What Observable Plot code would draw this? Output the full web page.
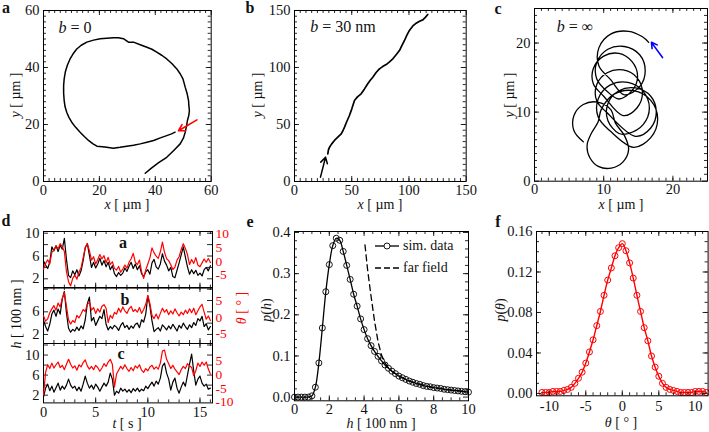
<!DOCTYPE html>
<html><head><meta charset="utf-8">
<script src="https://cdn.jsdelivr.net/npm/d3@7"></script>
<script src="https://cdn.jsdelivr.net/npm/@observablehq/plot@0.6"></script>
<style>
body{margin:0;background:#fff}
#root{position:relative;width:709px;height:432px;overflow:hidden;font-family:"Liberation Serif",serif;color:#111;background:#fff}
.abs{position:absolute;white-space:nowrap;line-height:1;transform:translate(-50%,-50%)}
.rot{transform:translate(-50%,-50%) rotate(-90deg)}
.lbl{font-weight:bold;font-size:16px}
.t{font-size:14px}
.leg{position:absolute;white-space:nowrap;line-height:1;font-size:14px;transform:translate(0,-50%)}
</style></head><body><div id="root"></div>
<script>
// ---------- data ----------
// panel a: trajectory, b = 0  (x, y in µm)
const trajA = [[36.4,2.9],[38.5,4.6],[41.2,6.6],[44.1,8.5],[46.6,10.9],[48.9,13.2],[50.1,15.3],[50.7,17.3],[51.2,19.5],[51.5,21.4],[52.0,23.2],[52.2,24.9],[52.0,26.8],[51.9,28.4],[51.4,30.8],[50.7,33.1],[49.9,36.0],[48.9,37.8],[47.7,39.5],[46.0,41.3],[44.1,43.0],[42.3,44.3],[40.5,45.4],[38.8,46.4],[37.0,47.1],[34.6,48.0],[32.2,48.9],[30.4,48.9],[28.6,50.1],[26.8,50.4],[25.0,50.4],[22.6,50.3],[20.3,50.1],[17.9,49.6],[15.5,48.9],[13.5,47.8],[11.9,46.5],[10.6,44.8],[9.5,43.0],[8.5,40.7],[7.8,38.4],[7.4,36.0],[7.2,33.7],[7.2,31.0],[7.4,28.4],[7.7,26.3],[8.3,24.3],[9.1,22.5],[10.1,20.8],[11.5,19.0],[13.1,17.3],[14.6,15.8],[16.1,14.4],[17.6,13.3],[19.1,12.4],[22.0,12.1],[25.0,11.7],[27.4,12.0],[29.8,12.4],[32.2,12.7],[34.6,13.2],[37.0,13.8],[39.4,14.4],[41.8,15.3],[44.1,16.1],[45.8,16.7],[47.1,17.3]];
const arrowA = [{x1:54.9, y1:21.6, x2:48.3, y2:17.8}];
// panel b: trajectory, b = 30 nm
const trajB = [[29.1,24.3],[29.6,27.5],[30.6,30.1],[32.5,33.0],[34.9,36.0],[37.6,38.6],[40.8,41.8],[42.3,44.5],[43.7,47.7],[45.6,52.4],[48.0,57.9],[50.0,63.5],[52.4,71.1],[55.0,74.2],[58.2,76.9],[61.0,81.0],[64.0,85.7],[66.2,88.8],[68.4,91.5],[71.3,95.6],[74.2,98.8],[77.0,100.8],[80.1,102.6],[83.0,105.0],[85.9,107.6],[88.8,111.2],[91.7,114.9],[94.0,119.6],[96.1,123.7],[98.2,128.4],[100.4,132.5],[103.2,136.2],[106.3,138.9],[109.2,140.6],[112.1,141.8],[114.3,144.0],[116.4,146.5]];
const arrowB = [{x1:22.7, y1:3.8, x2:27.1, y2:21.3}];
// panel c: trajectory, b = infinity (loops)
const trajC = [
  [7.05,5.7],[5.7,7.3],[5.7,9.5],[7.05,11.1],[9.1,11.45],[11.0,10.4],[11.7,8.4],
  [13.0,6.6],[13.6,4.6],[12.8,2.8],[11.1,1.9],[9.3,2.1],[8.0,3.4],[7.6,5.2],[8.2,6.9],[9.2,8.6],
  [9.65,10.4],[11.5,12.6],[14.3,13.1],[16.8,11.7],[17.8,9.0],[16.8,6.3],[14.3,4.9],
  [10.9,7.3],[9.2,9.3],[9.2,11.9],[10.9,13.9],[13.5,14.3],[15.7,13.0],[16.6,10.6],[15.7,8.2],[13.5,6.9],
  [12.2,6.9],[10.6,8.8],[10.6,11.2],[12.2,13.1],[14.6,13.5],[16.8,12.3],[17.6,10.0],[16.8,7.7],[14.6,6.5],
  [10.5,9.9],[9.0,11.6],[9.0,14.0],[10.5,15.7],[12.8,16.1],[14.8,15.0],[15.6,12.8],[14.8,10.6],[12.8,9.5],
  [10.0,12.3],[8.5,14.1],[8.5,16.3],[10.0,18.1],[12.2,18.5],[14.1,17.3],[14.9,15.2],[14.1,13.1],[12.2,11.9],
  [10.6,12.9],[9.0,14.8],[9.0,17.2],[10.6,19.1],[13.0,19.5],[15.2,18.3],[16.0,16.0],[15.2,13.7],[13.0,12.5],
  [11.0,14.7],[9.3,16.7],[9.3,19.3],[11.0,21.3],[13.6,21.7],[15.6,20.9],[16.5,20.1]
];
const arrowC = [{x1:18.5, y1:17.9, x2:16.9, y2:20.1}];

// panel d: time series, sampled every 0.2 s
const dTime = d3.range(81).map(i => i * 0.2);
const hA = [5.1,4.4,3.8,4.9,7.6,6.9,7.8,6.8,7.9,7.2, 9.1,5.4,2.6,2.2,3.4,2.7,3.6,2.5,3.4,5.2, 7.4,8.2,6.1,4.0,4.9,3.9,4.6,5.6,4.4,5.2, 4.1,4.9,3.6,4.3,2.9,2.4,3.1,2.6,3.0,3.9, 3.3,4.2,4.9,3.8,4.6,3.6,4.3,2.9,2.4,3.2, 3.6,2.8,4.8,5.4,4.1,3.7,4.6,6.4,5.1,4.4, 3.4,4.0,2.4,2.2,3.5,4.8,6.2,7.6,5.8,4.1, 2.8,3.6,2.9,3.5,2.6,3.0,2.5,3.6,4.0,3.4, 4.3];
const thA = [-2.9,-0.8,0.5,-1.0,3.2,4.1,5.6,4.4,6.3,5.2, 3.5,-3.8,-7.4,-8.9,-6.2,-5.0,-6.5,-3.9,-2.4,1.2, 5.0,6.3,3.8,0.4,1.6,-1.0,0.6,2.4,0.8,2.0, -0.6,1.4,-1.2,-0.2,-2.6,-3.2,-1.9,-4.0,-2.8,-1.4, -2.5,-0.4,0.9,2.8,-0.3,-1.2,0.4,-3.8,-6.2,-3.2, -1.0,1.2,4.8,3.0,1.8,1.0,3.4,6.9,3.2,0.9, 0.2,-1.3,-3.0,-2.1,0.4,1.6,4.2,6.3,4.6,2.4, -1.2,0.6,-0.8,1.3,-1.4,-2.0,-0.6,0.8,-0.4,1.0, -0.5];
const hB = [4.5,3.4,2.6,3.8,5.6,6.3,5.2,6.5,5.6,8.3, 9.6,5.8,3.1,2.4,2.9,2.6,3.3,2.7,3.5,3.0, 4.6,7.4,8.6,4.4,5.0,3.6,4.4,5.2,4.8,6.4, 3.8,2.8,3.4,3.0,3.6,3.3,2.7,3.6,4.1,3.2, 3.6,2.9,3.5,3.1,3.8,4.0,3.2,4.6,4.2,5.6, 8.8,7.0,4.4,2.5,2.9,3.2,2.6,3.7,3.3,2.8, 3.5,3.0,3.8,3.2,2.6,3.6,3.1,4.0,3.4,2.9, 3.7,3.2,4.1,3.6,4.8,4.4,5.2,3.4,3.9,2.8, 3.4];
const thB = [0.5,-1.2,-0.5,1.4,2.6,3.6,2.2,4.4,3.2,5.8, 7.6,3.4,-0.8,-2.1,-1.0,-1.6,0.6,-0.2,1.0,2.4, 1.8,4.0,4.6,2.2,3.0,1.2,2.6,1.6,3.4,3.9, 2.8,-1.6,0.6,-0.3,1.5,1.0,2.8,1.6,3.2,2.0, 1.2,2.6,3.4,1.8,2.4,1.6,3.0,1.2,2.4,4.0, 6.8,4.2,0.6,-0.4,1.0,-0.5,1.2,2.8,1.6,2.4, 0.8,2.0,1.0,2.6,1.4,0.4,1.6,0.8,2.2,1.2, 2.6,1.4,2.8,0.8,2.0,3.2,4.0,1.6,-0.6,0.4, -1.0];
const hC = [1.6,3.4,4.2,2.9,3.8,2.6,3.5,4.4,3.0,3.8, 3.2,4.0,5.2,4.0,3.4,3.8,2.9,3.6,2.8,4.2, 5.8,4.4,3.4,4.0,3.2,4.2,3.6,2.8,3.6,4.4, 3.8,4.6,6.4,5.2,2.0,2.8,2.4,3.4,2.8,3.2, 2.6,3.1,2.5,3.3,2.8,3.4,2.7,3.2,2.9,3.8, 3.3,4.0,4.6,3.8,4.8,4.2,5.4,7.8,8.4,6.4, 5.2,3.0,4.6,5.4,3.4,2.4,3.6,4.6,3.8,6.0, 8.2,10.2,6.8,4.0,5.2,5.8,4.4,3.8,4.2,3.2, 3.4];
const thC = [-7.5,0.8,3.6,2.2,4.2,2.4,3.6,4.6,2.6,3.4, 1.8,3.8,5.6,3.8,2.4,3.2,1.6,3.6,2.8,4.4, 5.4,3.2,2.0,3.0,1.8,3.4,2.6,1.2,2.4,4.0, 3.0,4.6,5.6,3.8,-4.6,0.2,1.6,3.0,2.0,3.6, 2.2,1.2,2.6,1.4,3.2,2.4,3.6,1.6,0.8,2.2, 1.4,2.8,3.4,2.0,2.8,2.0,4.2,8.6,9.0,5.6, 4.0,2.2,3.4,2.0,1.0,0.0,1.8,3.0,2.2,4.0, 3.2,2.6,-0.4,1.4,4.2,3.0,4.6,3.4,4.6,2.0, 0.2];

// panel e: p(h)
const eH = d3.range(51).map(i => i * 0.2);
const eP = [0,0,0,0,0,0.003,0.024,0.083,0.168,0.256, 0.322,0.368,0.386,0.381,0.354,0.320,0.286,0.250,0.221,0.190, 0.164,0.142,0.125,0.111,0.099,0.088,0.078,0.070,0.063,0.057, 0.051,0.047,0.043,0.039,0.036,0.033,0.031,0.028,0.026,0.025, 0.023,0.022,0.021,0.019,0.018,0.017,0.016,0.015,0.014,0.013, 0.012];
const ffH = [4.05,4.2,4.4,4.6,4.8,5.0,5.2,5.4,5.6,6.0,6.5,7.0,7.5,8.0,8.5,9.0,9.5,10.0];
const ffP = [0.37,0.31,0.245,0.185,0.135,0.102,0.083,0.071,0.063,0.051,0.041,0.033,0.028,0.023,0.020,0.017,0.015,0.012];

// panel f: p(theta)
const fT = d3.range(46).map(i => -11 + i * 0.5);
const fP = [0.001,0.001,0.001,0.002,0.002,0.002,0.003,0.004,0.006,0.010, 0.015,0.021,0.030,0.041,0.053,0.067,0.081,0.097,0.112,0.124, 0.136,0.144,0.148,0.141,0.129,0.114,0.097,0.081,0.065,0.052, 0.037,0.026,0.017,0.010,0.006,0.004,0.003,0.002,0.001,0.001, 0.001,0.001,0.002,0.002,0.002,0.001];

// ---------- helpers ----------
const root = document.getElementById("root");
const RED = "#ff0000", BLUE = "#0000ff";
const FONT = '"Liberation Serif", serif';
const hy = d => String(d); // plain hyphen minus like the reference
function place(frame, build) {
  const [x0, y0, x1, y1] = frame;
  const ml = 45, mr = 45, mt = 14, mb = 30;
  const W = x1 - x0, H = y1 - y0;
  const o = build(W, H);
  const svg = Plot.plot({
    width: W + ml + mr, height: H + mt + mb,
    marginLeft: ml, marginRight: mr, marginTop: mt, marginBottom: mb,
    style: {fontFamily: FONT, fontSize: "14.5px", background: "transparent", overflow: "visible", color: "#111"},
    ...o
  });
  svg.style.position = "absolute";
  svg.style.left = (x0 - ml) + "px";
  svg.style.top = (y0 - mt) + "px";
  root.appendChild(svg);
}
function frameTicks(W, H, xMaj, xMin, yMaj, yMin) {
  const m = [];
  for (const [xs, len] of [[xMaj, 5], [xMin, 3]]) {
    m.push(Plot.tickX(xs, {x: d => d, insetTop: H - len, strokeWidth: 0.9}));
    m.push(Plot.tickX(xs, {x: d => d, insetBottom: H - len, strokeWidth: 0.9}));
  }
  for (const [ys, len] of [[yMaj, 5], [yMin, 3]]) {
    m.push(Plot.tickY(ys, {y: d => d, insetRight: W - len, strokeWidth: 0.9}));
    m.push(Plot.tickY(ys, {y: d => d, insetLeft: W - len, strokeWidth: 0.9}));
  }
  return m;
}
function txt(html, x, y, cls, style = "") {
  const d = document.createElement("div");
  d.className = cls;
  d.innerHTML = html;
  d.style.cssText += `left:${x}px;top:${y}px;${style}`;
  root.appendChild(d);
}
const ax = (ticks, o = {}) => Plot.axisX(ticks, {tickSize: 0, tickPadding: 3, label: null, ...o});
const ay = (ticks, o = {}) => Plot.axisY(ticks, {tickSize: 0, tickPadding: 4, label: null, ...o});

// ---------- panel a ----------
place([43.3, 10, 211, 181], (W, H) => ({
  x: {domain: [0, 60], axis: null}, y: {domain: [0, 60], axis: null},
  marks: [
    Plot.line(trajA, {stroke: "#000", strokeWidth: 1.5}),
    Plot.arrow(arrowA, {x1: "x1", y1: "y1", x2: "x2", y2: "y2", stroke: RED, strokeWidth: 1.6, headLength: 9}),
    ...frameTicks(W, H, [0,20,40,60], d3.range(2, 60, 2), [0,20,40,60], d3.range(2, 60, 2)),
    ax([0,20,40,60]), ay([0,20,40,60]),
    Plot.frame({stroke: "#000"})
  ]
}));
// ---------- panel b ----------
place([294.3, 10, 466, 181], (W, H) => ({
  x: {domain: [0, 150], axis: null}, y: {domain: [0, 150], axis: null},
  marks: [
    Plot.line(trajB, {stroke: "#000", strokeWidth: 1.7}),
    Plot.arrow(arrowB, {x1: "x1", y1: "y1", x2: "x2", y2: "y2", stroke: "#000", strokeWidth: 1.5, headLength: 9}),
    ...frameTicks(W, H, [0,50,100,150], d3.range(5, 150, 5), [0,50,100,150], d3.range(5, 150, 5)),
    ax([0,50,100,150]), ay([0,50,100,150]),
    Plot.frame({stroke: "#000"})
  ]
}));
// ---------- panel c ----------
place([534.3, 8.3, 707.3, 181], (W, H) => ({
  x: {domain: [0, 25], axis: null}, y: {domain: [0, 25], axis: null},
  marks: [
    Plot.line(trajC, {stroke: "#000", strokeWidth: 1.3, curve: "catmull-rom"}),
    Plot.arrow(arrowC, {x1: "x1", y1: "y1", x2: "x2", y2: "y2", stroke: BLUE, strokeWidth: 1.6, headLength: 9}),
    ...frameTicks(W, H, [0,10,20], d3.range(1, 25, 1), [0,10,20], d3.range(1, 25, 1)),
    ax([0,10,20]), ay([0,10,20]),
    Plot.frame({stroke: "#000"})
  ]
}));
// ---------- panel d ----------
const dSub = [
  {fr: [43.3, 230.7, 212.3, 287.3], h: hA, th: thA, hd: [0.37, 10.3], td: [-9.7, 10.7], hl: [2,6,10], tl: [-5,0,5,10], xl: false},
  {fr: [43.3, 287.3, 212.3, 343.3], h: hB, th: thB, hd: [0.4, 10.3], td: [-8.1, 9.2], hl: [2,6], tl: [-5,0,5], xl: false},
  {fr: [43.3, 343.3, 212.3, 402.7], h: hC, th: thC, hd: [0.46, 12.3], td: [-10.4, 11.4], hl: [2,6,10], tl: [-10,-5,0,5], xl: true}
];
for (const s of dSub) {
  place(s.fr, (W, H) => ({
    x: {domain: [0, 16.2], axis: null}, y: {domain: s.hd, axis: null},
    marks: [
      Plot.line(dTime.map((t, i) => [t, s.h[i]]), {stroke: "#000", strokeWidth: 1.2, clip: true}),
      ...frameTicks(W, H, [0,5,10,15], d3.range(1, 17, 1), d3.range(2, s.hd[1], 2), []),
      ay(s.hl),
      ...(s.xl ? [ax([0,5,10,15], {tickPadding: 4})] : []),
      Plot.frame({stroke: "#000"})
    ]
  }));
  place(s.fr, (W, H) => ({
    x: {domain: [0, 16.2], axis: null}, y: {domain: s.td, axis: null},
    marks: [
      Plot.line(dTime.map((t, i) => [t, s.th[i]]), {stroke: RED, strokeWidth: 1.2, clip: true}),
      ay(s.tl, {anchor: "right", color: RED, tickPadding: 3, tickFormat: hy, fontSize: 13.5})
    ]
  }));
}
// ---------- panel e ----------
place([294.3, 230.7, 468.3, 400], (W, H) => ({
  x: {domain: [0, 10], axis: null}, y: {domain: [-0.009, 0.4024], axis: null},
  marks: [
    Plot.line(ffH.map((h, i) => [h, ffP[i]]), {stroke: "#000", strokeWidth: 1.3, strokeDasharray: "6,4"}),
    Plot.line(eH.map((h, i) => [h, eP[i]]), {stroke: "#000", strokeWidth: 1.3, curve: "catmull-rom"}),
    Plot.dot(eH.map((h, i) => [h, eP[i]]), {r: 3, stroke: "#000", strokeWidth: 0.9, fill: "none"}),
    ...frameTicks(W, H, [0,2,4,6,8,10], d3.range(0.5, 10, 0.5), [0,0.1,0.2,0.3,0.4], d3.range(0.02, 0.4, 0.02)),
    ax([0,2,4,6,8,10]), ay([0,0.1,0.2,0.3,0.4], {tickFormat: d3.format(".1f")}),
    Plot.frame({stroke: "#000"})
  ]
}));
// ---------- panel f ----------
place([535.7, 230.7, 707.3, 395], (W, H) => ({
  x: {domain: [-11.75, 11.75], axis: null}, y: {domain: [-0.0023, 0.16], axis: null},
  marks: [
    Plot.line(fT.map((t, i) => [t, fP[i]]), {stroke: RED, strokeWidth: 1.4, curve: "catmull-rom"}),
    Plot.dot(fT.map((t, i) => [t, fP[i]]), {r: 3, stroke: RED, strokeWidth: 1, fill: "none"}),
    ...frameTicks(W, H, [-10,-5,0,5,10], d3.range(-11, 12, 1), [0,0.04,0.08,0.12,0.16], d3.range(0.01, 0.16, 0.01)),
    ax([-10,-5,0,5,10], {tickPadding: 5, tickFormat: hy}), ay([0,0.04,0.08,0.12,0.16], {tickFormat: d3.format(".2f")}),
    Plot.frame({stroke: "#000"})
  ]
}));

// ---------- texts ----------
txt("a", 6, 8, "abs lbl"); txt("b", 250, 8, "abs lbl"); txt("c", 498, 9, "abs lbl");
txt("d", 6, 221, "abs lbl"); txt("e", 250, 222, "abs lbl"); txt("f", 498, 222, "abs lbl");
txt("<i>b</i> = 0", 75, 28, "abs t", "font-size:16px");
txt("<i>b</i> = 30 nm", 343, 27, "abs t", "font-size:16px");
txt("<i>b</i> = ∞", 575, 27, "abs t", "font-size:16px");
for (const x of [127, 380, 621]) txt("<i>x</i> [ µm ]", x, 205, "abs t");
for (const x of [16, 258, 510]) txt("<i>y</i> [ µm ]", x, 95, "abs t rot");
txt("a", 123, 243, "abs lbl"); txt("b", 125, 300, "abs lbl"); txt("c", 121, 354, "abs lbl");
txt("<i>h</i> [ 100 nm ]", 17, 314, "abs t rot");
txt("<i>θ</i> [ ° ]", 242, 308, "abs t rot", "color:" + RED);
txt("<i>t</i> [ s ]", 127, 424, "abs t");
txt("<i>p</i>(<i>h</i>)", 267, 310, "abs t rot");
txt("<i>h</i> [ 100 nm ]", 381, 424, "abs t");
txt("<i>p</i>(<i>θ</i>)", 501, 310, "abs t rot");
txt("<i>θ</i> [ ° ]", 621, 423, "abs t");
// legend for panel e
const leg = document.createElement("div");
leg.style.cssText = "position:absolute;left:372px;top:236px;width:30px;height:40px";
leg.innerHTML = '<svg width="30" height="40"><line x1="3" y1="10" x2="27" y2="10" stroke="#000" stroke-width="1.3"/><circle cx="15" cy="10" r="3" fill="#fff" stroke="#000" stroke-width="0.9"/><line x1="3" y1="32" x2="27" y2="32" stroke="#000" stroke-width="1.3" stroke-dasharray="6,3"/></svg>';
root.appendChild(leg);
txt("sim. data", 403, 246, "leg");
txt("far field", 403, 268, "leg");
</script></body></html>
